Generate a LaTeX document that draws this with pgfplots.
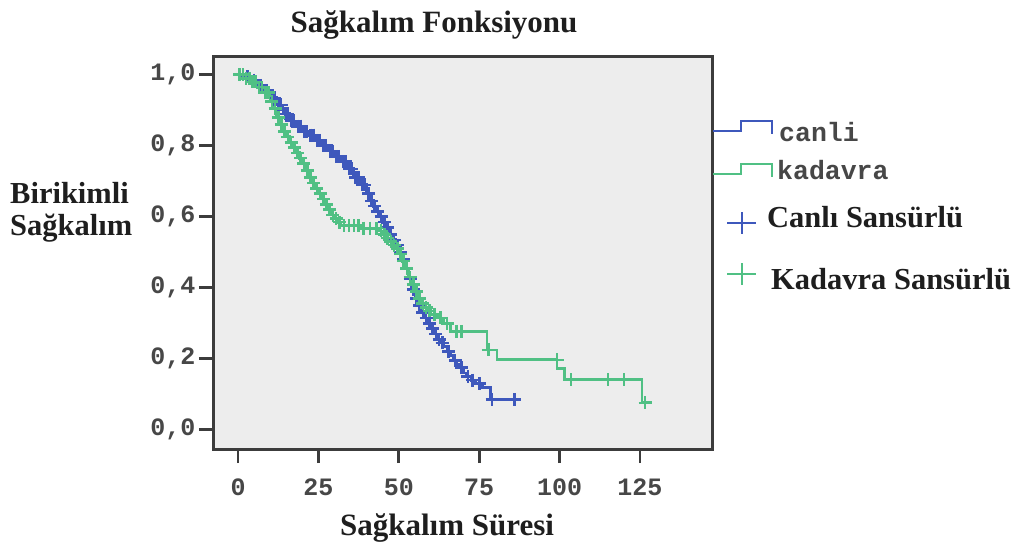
\documentclass[border=0pt]{standalone}
\usepackage{fontspec}
\setmainfont{Liberation Serif}
\setmonofont{Liberation Mono}
\usepackage{pgfplots}
\pgfplotsset{compat=1.18}
\definecolor{cblue}{RGB}{62,88,188}
\definecolor{cgreen}{RGB}{80,192,132}
\definecolor{bggray}{RGB}{237,237,237}
\definecolor{axgray}{RGB}{60,60,60}
\definecolor{txt}{RGB}{30,30,30}
\pgfplotsset{
  steplegend/.style={legend image code/.code={\draw[##1] (0pt,8pt) -- (28pt,8pt) -- (28pt,18pt) -- (59pt,18pt) -- (59pt,5pt);}},
  pluslegend/.style={legend image code/.code={\draw[##1] (14pt,11pt) -- (43pt,11pt) (28.5pt,0pt) -- (28.5pt,22pt);}},
}
\begin{document}
\begin{tikzpicture}
\useasboundingbox (0,0) rectangle (1019pt,544pt);
\begin{axis}[
  at={(213pt,95pt)}, anchor=south west,
  scale only axis, width=499pt, height=392pt,
  xmin=-7.8, xmax=147.4, ymin=-0.054, ymax=1.05,
  axis background/.style={fill=bggray},
  axis line style={axgray, line width=3pt},
  every outer x axis line/.append style={axgray, line width=3pt},
  every outer y axis line/.append style={axgray, line width=3pt},
  xtick={0,25,50,75,100,125},
  xticklabels={0,25,50,75,100,125},
  ytick={0,0.2,0.4,0.6,0.8,1.0},
  yticklabels={{0,0},{0,2},{0,4},{0,6},{0,8},{1,0}},
  xtick pos=left, ytick pos=left,
  tick align=outside,
  major tick length=14pt,
  tick style={axgray, line width=2.8pt},
  ticklabel style={font=\fontsize{25}{25}\selectfont\ttfamily\bfseries, text=black!72},
  xticklabel style={yshift=-12pt},
  every axis title/.style={at={(0.443,1)}, anchor=base, yshift=24pt, text=txt, font=\fontsize{31}{36}\selectfont\bfseries},
  title={Sağkalım Fonksiyonu},
  every axis x label/.style={at={(0.469,0)}, anchor=base, yshift=-86pt, text=txt, font=\fontsize{31}{36}\selectfont\bfseries},
  xlabel={Sağkalım Süresi},
  every axis y label/.style={at={(0,0.603)}, anchor=west, xshift=-203pt, align=left, inner sep=0pt, text=txt, font=\fontsize{30.5}{32}\selectfont\bfseries},
  ylabel={Birikimli\\Sağkalım},
  legend style={at={(1,0.84)}, anchor=north west, draw=none, fill=none, inner xsep=0pt, inner ysep=0pt, row sep=0pt, cells={anchor=west}},
]
% canli (blue) step curve
\addplot[const plot, cblue, line width=2.8pt, forget plot] coordinates {
(0,1.0) (2,0.995) (4,0.985) (6,0.97) (8,0.955) (10,0.935) (12,0.915) (14,0.89) (16,0.87) (18,0.855) (20,0.84) (22,0.83) (24,0.815) (26,0.80) (28,0.785) (30,0.77) (32,0.755) (34,0.735) (36,0.71) (38,0.69) (40,0.665) (41,0.645) (42,0.63) (43,0.615) (44,0.60) (45,0.585) (46,0.57) (47,0.55) (48,0.535) (49,0.52) (50,0.50) (51,0.48) (52,0.455) (53,0.425) (54,0.395) (55,0.37) (56,0.35) (57,0.33) (58,0.315) (59,0.30) (60,0.285) (61,0.27) (62,0.255) (63,0.245) (64,0.235) (65,0.22) (66,0.21) (67,0.195) (68,0.185) (69,0.175) (70,0.16) (71,0.15) (72.5,0.14) (74,0.13) (76,0.12) (78.4,0.085) (88,0.085)
};
% canli censored
\addplot[only marks, mark=+, mark size=6.5pt, cblue, line width=2.6pt, forget plot] coordinates {
(3,0.995) (5,0.985) (7,0.97) (9,0.955) (10.6,0.935) (11.4,0.935) (12.6,0.915) (13.4,0.915) (14.6,0.89) (15.4,0.89) (16.6,0.87) (17.4,0.87) (18.6,0.855) (19.4,0.855) (20.6,0.84) (21.4,0.84) (22.6,0.83) (23.4,0.83) (24.6,0.815) (25.4,0.815) (26.6,0.80) (27.4,0.80) (28.6,0.785) (29.4,0.785) (30.6,0.77) (31.4,0.77) (32.6,0.755) (33.4,0.755) (34.6,0.735) (35.4,0.735) (36.6,0.71) (37.4,0.71) (38.6,0.69) (39.4,0.69) (40.5,0.665) (41.5,0.645) (42.5,0.63) (43.5,0.615) (44.5,0.60) (45.5,0.585) (46.5,0.57) (47.5,0.55) (48.5,0.535) (49.5,0.52) (50.5,0.50) (51.5,0.48) (52.5,0.455) (53.5,0.425) (54.5,0.395) (55.5,0.37) (56.5,0.35) (57.5,0.33) (58.5,0.315) (59.5,0.30) (60.5,0.285) (61.5,0.27) (62.5,0.255) (63.5,0.245) (65.5,0.22) (67.5,0.195) (69.5,0.175) (71.5,0.15) (73,0.14) (75,0.13) (79,0.085) (86,0.085)
};
% kadavra (green) step curve
\addplot[const plot, cgreen, line width=2.8pt, forget plot] coordinates {
(0,1.0) (2,0.99) (4,0.98) (6,0.965) (8,0.95) (10,0.925) (11,0.905) (12,0.88) (13,0.86) (14,0.84) (15,0.825) (16,0.81) (17,0.795) (18,0.78) (19,0.765) (20,0.75) (21,0.73) (22,0.71) (23,0.695) (24,0.68) (25,0.665) (26,0.65) (27,0.635) (28,0.62) (29,0.605) (30,0.595) (31,0.585) (32,0.575) (38,0.568) (44,0.56) (45,0.55) (46,0.54) (47,0.53) (48,0.52) (49,0.51) (50,0.495) (51,0.475) (52,0.455) (53,0.43) (54,0.41) (55,0.39) (56,0.37) (57,0.355) (58,0.345) (59,0.335) (60,0.325) (62,0.315) (64,0.30) (66,0.277) (77.4,0.225) (80.5,0.197) (99.2,0.172) (101.5,0.141) (125.6,0.076) (128.7,0.076)
};
% kadavra censored
\addplot[only marks, mark=+, mark size=6.5pt, cgreen, line width=2.6pt, forget plot] coordinates {
(0.5,1.0) (1.5,1.0) (2.5,0.99) (3.5,0.99) (4.5,0.98) (5.5,0.98) (6.5,0.965) (7.5,0.965) (8.5,0.95) (9.5,0.95) (10.5,0.925) (11.5,0.905) (12.5,0.88) (13.5,0.86) (14.5,0.84) (15.5,0.825) (16.5,0.81) (17.5,0.795) (18.5,0.78) (19.5,0.765) (20.5,0.75) (21.5,0.73) (22.5,0.71) (23.5,0.695) (24.5,0.68) (25.5,0.665) (26.5,0.65) (27.5,0.635) (28.5,0.62) (29.5,0.605) (30.5,0.595) (31.5,0.585) (33,0.575) (34.5,0.575) (36,0.575) (37.5,0.575) (39,0.568) (41,0.568) (43,0.568) (44.5,0.56) (45.5,0.55) (46.5,0.54) (47.5,0.53) (48.5,0.52) (49.5,0.51) (50.5,0.495) (51.5,0.475) (52.5,0.455) (53.5,0.43) (54.5,0.41) (55.5,0.39) (56.5,0.37) (57.5,0.355) (58.5,0.345) (59.5,0.335) (61,0.325) (63,0.315) (65,0.30) (68,0.277) (69.5,0.277) (77.8,0.225) (99.2,0.197) (103.5,0.141) (115,0.141) (120,0.141) (126.6,0.076)
};
\addlegendimage{steplegend, cblue, line width=2pt}
\addlegendentry[text height=20pt, text depth=14pt]{\hspace*{4pt}\fontsize{26.5}{26.5}\selectfont\ttfamily\bfseries\color{black!72}canli}
\addlegendimage{steplegend, cgreen, line width=2pt}
\addlegendentry[text height=20pt, text depth=24pt]{\hspace*{2pt}\fontsize{26.5}{26.5}\selectfont\ttfamily\bfseries\color{black!72}kadavra}
\addlegendimage{pluslegend, cblue, line width=1.6pt}
\addlegendentry[text height=20pt, text depth=32pt]{\hspace*{-8pt}\fontsize{30.5}{33}\selectfont\bfseries\color{txt}Canlı Sansürlü}
\addlegendimage{pluslegend, cgreen, line width=1.6pt}
\addlegendentry[text height=20pt, text depth=10pt]{\hspace*{-4pt}\fontsize{30.5}{33}\selectfont\bfseries\color{txt}Kadavra Sansürlü}
\end{axis}
\end{tikzpicture}
\end{document}
